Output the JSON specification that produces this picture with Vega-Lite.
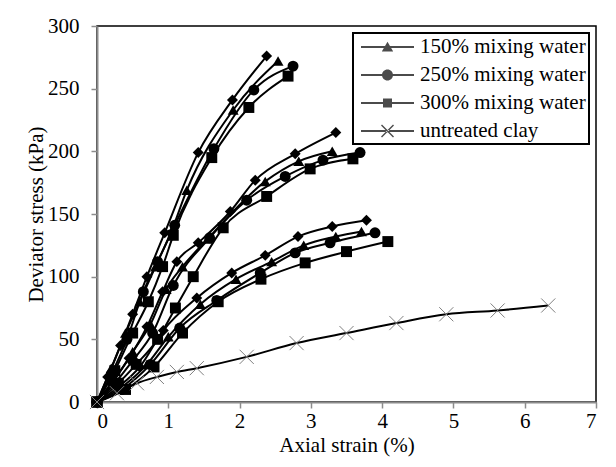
{
  "$schema": "https://vega.github.io/schema/vega-lite/v6.json",
  "width": 499,
  "height": 376,
  "autosize": {"type": "none"},
  "padding": {"left": 97, "top": 26, "right": 20, "bottom": 65},
  "background": "white",
  "config": {
    "font": "Liberation Serif",
    "view": {"stroke": "black", "strokeWidth": 1.5},
    "axis": {
      "domainColor": "#8c8c8c", "domainWidth": 2,
      "tickColor": "#8c8c8c", "tickWidth": 1.5, "tickSize": 6,
      "grid": false,
      "labelFont": "Liberation Serif", "labelFontSize": 21, "labelColor": "black",
      "titleFont": "Liberation Serif", "titleFontSize": 21, "titleFontWeight": "normal", "titleColor": "black"
    },
    "legend": {
      "labelFont": "Liberation Serif", "labelFontSize": 21, "labelColor": "black", "labelLimit": 300,
      "strokeColor": "black", "strokeWidth": 2, "fillColor": "white",
      "padding": 3, "rowPadding": 7, "symbolSize": 400, "labelOffset": 42
    }
  },
  "data": {"values": [
    {"s": "150H", "m": "150% mixing water", "x": 0, "y": 0},
    {"s": "150H", "m": "150% mixing water", "x": 0.2, "y": 27},
    {"s": "150H", "m": "150% mixing water", "x": 0.4, "y": 55},
    {"s": "150H", "m": "150% mixing water", "x": 0.6, "y": 80},
    {"s": "150H", "m": "150% mixing water", "x": 0.82, "y": 108},
    {"s": "150H", "m": "150% mixing water", "x": 1.05, "y": 137},
    {"s": "150H", "m": "150% mixing water", "x": 1.26, "y": 169},
    {"s": "150H", "m": "150% mixing water", "x": 1.91, "y": 233},
    {"s": "150H", "m": "150% mixing water", "x": 2.54, "y": 272},

    {"s": "200H", "m": "200% mixing water", "x": 0, "y": 0},
    {"s": "200H", "m": "200% mixing water", "x": 0.15, "y": 20},
    {"s": "200H", "m": "200% mixing water", "x": 0.33, "y": 45},
    {"s": "200H", "m": "200% mixing water", "x": 0.5, "y": 70},
    {"s": "200H", "m": "200% mixing water", "x": 0.7, "y": 100},
    {"s": "200H", "m": "200% mixing water", "x": 0.95, "y": 135},
    {"s": "200H", "m": "200% mixing water", "x": 1.42, "y": 199},
    {"s": "200H", "m": "200% mixing water", "x": 1.9, "y": 241},
    {"s": "200H", "m": "200% mixing water", "x": 2.38, "y": 276},

    {"s": "250H", "m": "250% mixing water", "x": 0, "y": 0},
    {"s": "250H", "m": "250% mixing water", "x": 0.2, "y": 22},
    {"s": "250H", "m": "250% mixing water", "x": 0.42, "y": 50},
    {"s": "250H", "m": "250% mixing water", "x": 0.65, "y": 88},
    {"s": "250H", "m": "250% mixing water", "x": 0.85, "y": 112},
    {"s": "250H", "m": "250% mixing water", "x": 1.09, "y": 141},
    {"s": "250H", "m": "250% mixing water", "x": 1.64, "y": 202},
    {"s": "250H", "m": "250% mixing water", "x": 2.2, "y": 249},
    {"s": "250H", "m": "250% mixing water", "x": 2.75, "y": 268},

    {"s": "300H", "m": "300% mixing water", "x": 0, "y": 0},
    {"s": "300H", "m": "300% mixing water", "x": 0.25, "y": 25},
    {"s": "300H", "m": "300% mixing water", "x": 0.5, "y": 55},
    {"s": "300H", "m": "300% mixing water", "x": 0.72, "y": 80},
    {"s": "300H", "m": "300% mixing water", "x": 0.92, "y": 108},
    {"s": "300H", "m": "300% mixing water", "x": 1.07, "y": 133},
    {"s": "300H", "m": "300% mixing water", "x": 1.61, "y": 195},
    {"s": "300H", "m": "300% mixing water", "x": 2.13, "y": 235},
    {"s": "300H", "m": "300% mixing water", "x": 2.68, "y": 260},

    {"s": "150M", "m": "150% mixing water", "x": 0, "y": 0},
    {"s": "150M", "m": "150% mixing water", "x": 0.25, "y": 18},
    {"s": "150M", "m": "150% mixing water", "x": 0.5, "y": 40},
    {"s": "150M", "m": "150% mixing water", "x": 0.75, "y": 62},
    {"s": "150M", "m": "150% mixing water", "x": 0.97, "y": 90},
    {"s": "150M", "m": "150% mixing water", "x": 1.2, "y": 108},
    {"s": "150M", "m": "150% mixing water", "x": 1.55, "y": 130},
    {"s": "150M", "m": "150% mixing water", "x": 2.36, "y": 176},
    {"s": "150M", "m": "150% mixing water", "x": 2.83, "y": 192},
    {"s": "150M", "m": "150% mixing water", "x": 3.3, "y": 200},

    {"s": "200M", "m": "200% mixing water", "x": 0, "y": 0},
    {"s": "200M", "m": "200% mixing water", "x": 0.2, "y": 15},
    {"s": "200M", "m": "200% mixing water", "x": 0.45, "y": 35},
    {"s": "200M", "m": "200% mixing water", "x": 0.7, "y": 60},
    {"s": "200M", "m": "200% mixing water", "x": 0.92, "y": 88},
    {"s": "200M", "m": "200% mixing water", "x": 1.12, "y": 112},
    {"s": "200M", "m": "200% mixing water", "x": 1.42, "y": 127},
    {"s": "200M", "m": "200% mixing water", "x": 1.87, "y": 152},
    {"s": "200M", "m": "200% mixing water", "x": 2.22, "y": 177},
    {"s": "200M", "m": "200% mixing water", "x": 2.78, "y": 198},
    {"s": "200M", "m": "200% mixing water", "x": 3.35, "y": 215},

    {"s": "250M", "m": "250% mixing water", "x": 0, "y": 0},
    {"s": "250M", "m": "250% mixing water", "x": 0.25, "y": 15},
    {"s": "250M", "m": "250% mixing water", "x": 0.5, "y": 33},
    {"s": "250M", "m": "250% mixing water", "x": 0.78, "y": 55},
    {"s": "250M", "m": "250% mixing water", "x": 1.07, "y": 93},
    {"s": "250M", "m": "250% mixing water", "x": 1.58, "y": 131},
    {"s": "250M", "m": "250% mixing water", "x": 2.1, "y": 161},
    {"s": "250M", "m": "250% mixing water", "x": 2.64, "y": 180},
    {"s": "250M", "m": "250% mixing water", "x": 3.17, "y": 193},
    {"s": "250M", "m": "250% mixing water", "x": 3.69, "y": 199},

    {"s": "300M", "m": "300% mixing water", "x": 0, "y": 0},
    {"s": "300M", "m": "300% mixing water", "x": 0.3, "y": 15},
    {"s": "300M", "m": "300% mixing water", "x": 0.55, "y": 30},
    {"s": "300M", "m": "300% mixing water", "x": 0.85, "y": 50},
    {"s": "300M", "m": "300% mixing water", "x": 1.1, "y": 75},
    {"s": "300M", "m": "300% mixing water", "x": 1.35, "y": 100},
    {"s": "300M", "m": "300% mixing water", "x": 1.77, "y": 139},
    {"s": "300M", "m": "300% mixing water", "x": 2.38, "y": 164},
    {"s": "300M", "m": "300% mixing water", "x": 2.99, "y": 186},
    {"s": "300M", "m": "300% mixing water", "x": 3.59, "y": 194},

    {"s": "150L", "m": "150% mixing water", "x": 0, "y": 0},
    {"s": "150L", "m": "150% mixing water", "x": 0.35, "y": 12},
    {"s": "150L", "m": "150% mixing water", "x": 0.7, "y": 30},
    {"s": "150L", "m": "150% mixing water", "x": 1.0, "y": 52},
    {"s": "150L", "m": "150% mixing water", "x": 1.45, "y": 78},
    {"s": "150L", "m": "150% mixing water", "x": 1.95, "y": 98},
    {"s": "150L", "m": "150% mixing water", "x": 2.45, "y": 112},
    {"s": "150L", "m": "150% mixing water", "x": 2.9, "y": 125},
    {"s": "150L", "m": "150% mixing water", "x": 3.35, "y": 132},
    {"s": "150L", "m": "150% mixing water", "x": 3.71, "y": 136},

    {"s": "200L", "m": "200% mixing water", "x": 0, "y": 0},
    {"s": "200L", "m": "200% mixing water", "x": 0.3, "y": 12},
    {"s": "200L", "m": "200% mixing water", "x": 0.6, "y": 28},
    {"s": "200L", "m": "200% mixing water", "x": 0.93, "y": 57},
    {"s": "200L", "m": "200% mixing water", "x": 1.4, "y": 83},
    {"s": "200L", "m": "200% mixing water", "x": 1.89, "y": 103},
    {"s": "200L", "m": "200% mixing water", "x": 2.36, "y": 117},
    {"s": "200L", "m": "200% mixing water", "x": 2.82, "y": 132},
    {"s": "200L", "m": "200% mixing water", "x": 3.3, "y": 140},
    {"s": "200L", "m": "200% mixing water", "x": 3.78, "y": 145},

    {"s": "250L", "m": "250% mixing water", "x": 0, "y": 0},
    {"s": "250L", "m": "250% mixing water", "x": 0.35, "y": 10},
    {"s": "250L", "m": "250% mixing water", "x": 0.75, "y": 30},
    {"s": "250L", "m": "250% mixing water", "x": 1.16, "y": 59},
    {"s": "250L", "m": "250% mixing water", "x": 1.68, "y": 81},
    {"s": "250L", "m": "250% mixing water", "x": 2.29, "y": 103},
    {"s": "250L", "m": "250% mixing water", "x": 2.78, "y": 119},
    {"s": "250L", "m": "250% mixing water", "x": 3.27, "y": 127},
    {"s": "250L", "m": "250% mixing water", "x": 3.9, "y": 135},

    {"s": "300L", "m": "300% mixing water", "x": 0, "y": 0},
    {"s": "300L", "m": "300% mixing water", "x": 0.4, "y": 10},
    {"s": "300L", "m": "300% mixing water", "x": 0.8, "y": 28},
    {"s": "300L", "m": "300% mixing water", "x": 1.2, "y": 55},
    {"s": "300L", "m": "300% mixing water", "x": 1.7, "y": 80},
    {"s": "300L", "m": "300% mixing water", "x": 2.3, "y": 98},
    {"s": "300L", "m": "300% mixing water", "x": 2.92, "y": 111},
    {"s": "300L", "m": "300% mixing water", "x": 3.5, "y": 120},
    {"s": "300L", "m": "300% mixing water", "x": 4.08, "y": 128},

    {"s": "clay", "m": "untreated clay", "x": 0, "y": 0},
    {"s": "clay", "m": "untreated clay", "x": 0.28, "y": 7},
    {"s": "clay", "m": "untreated clay", "x": 0.56, "y": 15},
    {"s": "clay", "m": "untreated clay", "x": 0.84, "y": 20},
    {"s": "clay", "m": "untreated clay", "x": 1.12, "y": 24},
    {"s": "clay", "m": "untreated clay", "x": 1.4, "y": 27},
    {"s": "clay", "m": "untreated clay", "x": 2.1, "y": 36},
    {"s": "clay", "m": "untreated clay", "x": 2.8, "y": 47},
    {"s": "clay", "m": "untreated clay", "x": 3.5, "y": 55},
    {"s": "clay", "m": "untreated clay", "x": 4.2, "y": 63},
    {"s": "clay", "m": "untreated clay", "x": 4.9, "y": 70},
    {"s": "clay", "m": "untreated clay", "x": 5.62, "y": 73},
    {"s": "clay", "m": "untreated clay", "x": 6.33, "y": 77}
  ]},
  "encoding": {
    "x": {"field": "x", "type": "quantitative", "scale": {"domain": [0, 7]},
          "axis": {"title": "Axial strain (%)", "values": [0, 1, 2, 3, 4, 5, 6, 7], "labelPadding": 2, "titlePadding": 3}},
    "y": {"field": "y", "type": "quantitative", "scale": {"domain": [0, 300]},
          "axis": {"title": "Deviator stress (kPa)", "values": [0, 50, 100, 150, 200, 250, 300], "labelPadding": 12, "titlePadding": 1}}
  },
  "resolve": {"scale": {"shape": "independent"}},
  "layer": [
    {
      "mark": {"type": "line", "interpolate": "monotone", "color": "black", "strokeWidth": 2},
      "encoding": {"detail": {"field": "s"}}
    },
    {
      "transform": [{"filter": "datum.m !== 'untreated clay'"}],
      "mark": {"type": "point", "filled": true, "color": "black", "opacity": 1, "size": 120},
      "encoding": {
        "shape": {
          "field": "m", "type": "nominal",
          "scale": {
            "domain": ["150% mixing water", "200% mixing water", "250% mixing water", "300% mixing water"],
            "range": ["triangle-up", "diamond", "circle", "square"]
          },
          "legend": null
        }
      }
    },
    {
      "transform": [{"filter": "datum.m === 'untreated clay'"}],
      "mark": {"type": "point", "shape": "M-1,-1L1,1M-1,1L1,-1", "filled": false, "stroke": "#808080", "strokeWidth": 1, "size": 200, "opacity": 1}
    },
    {
      "transform": [{"filter": "datum.m !== '200% mixing water'"}],
      "mark": {"type": "point", "filled": true, "color": "black", "size": 0},
      "encoding": {
        "shape": {
          "field": "m", "type": "nominal",
          "scale": {
            "domain": ["150% mixing water", "250% mixing water", "300% mixing water", "untreated clay"],
            "range": [
              "M-0.6,-0.1H4.7V0.1H-0.6Z M2.05,-0.52L2.62,0.45L1.48,0.45Z",
              "M-0.6,-0.1H4.7V0.1H-0.6Z M2.6,0A0.55,0.55 0 1 1 1.5,0A0.55,0.55 0 1 1 2.6,0Z",
              "M-0.6,-0.1H4.7V0.1H-0.6Z M1.6,-0.45H2.5V0.45H1.6Z",
              "M-0.6,-0.1H4.7V0.1H-0.6Z M1.4,-0.55L1.5,-0.65L2.7,0.55L2.6,0.65Z M1.4,0.55L1.5,0.65L2.7,-0.55L2.6,-0.65Z"
            ]
          },
          "legend": {"title": null, "orient": "top-right", "offset": 7, "labelExpr": "datum.label + '\u00a0\u00a0'"}
        }
      }
    }
  ]
}
